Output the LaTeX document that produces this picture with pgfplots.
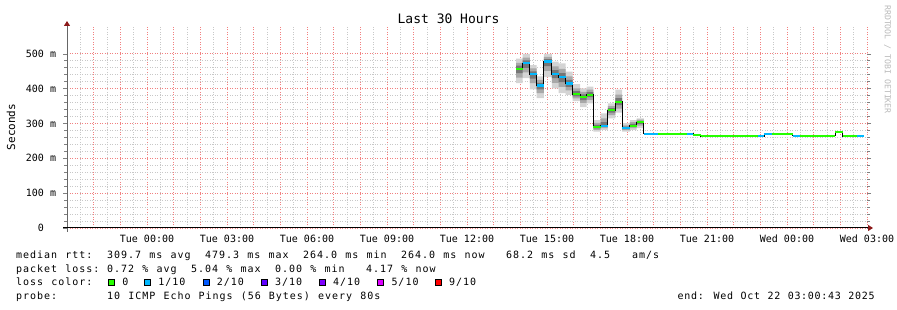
\documentclass[border=0pt]{standalone}
\usepackage{fontspec}
\setmainfont{DejaVu Sans Mono}
\newfontfamily\lgfont[LetterSpace=9.8,WordSpace=1.163]{DejaVu Sans Mono}
\newfontfamily\endfont[LetterSpace=7,WordSpace=1.116]{DejaVu Sans Mono}
\usepackage{pgfplots}
\pgfplotsset{compat=1.18}
\usepackage{pgfplotstable}
\usepgfplotslibrary{fillbetween}
\usetikzlibrary{arrows.meta}

\definecolor{lgreen}{RGB}{38,255,0}
\definecolor{lcyan}{RGB}{0,184,255}
\definecolor{lblue}{RGB}{0,89,255}
\definecolor{lviolet}{RGB}{94,0,255}
\definecolor{lpurple}{RGB}{126,0,255}
\definecolor{lmagenta}{RGB}{221,0,255}
\definecolor{lred}{RGB}{255,0,0}
\definecolor{mgrid}{RGB}{242,128,128}
\definecolor{ngrid}{RGB}{200,200,200}
\definecolor{arrowc}{RGB}{140,25,25}
\definecolor{smoke1}{RGB}{212,212,212}
\definecolor{smoke2}{RGB}{168,168,168}
\definecolor{smoke3}{RGB}{118,118,118}

% smoke bands (ms), step start in hours after Tue 00:00
\pgfplotstableread{
x olo ohi mlo mhi ilo ihi
13.84 416 486 432 474 445 466
14.09 430 500 447 489 460 481
14.36 398 468 416 458 429 450
14.61 373 435 387 425 398 417
14.88 433 500 451 491 465 485
15.18 401 478 417 464 430 453
15.44 387 473 405 457 419 445
15.70 382 449 395 435 405 425
15.96 364 413 372 401 378 393
16.24 347 401 359 391 367 384
16.49 358 406 368 397 376 390
16.74 277 310 282 302 286 296
17.01 282 329 287 315 290 304
17.28 315 358 324 350 331 344
17.56 331 397 343 383 353 373
17.82 277 301 281 295 284 291
18.11 282 310 287 304 290 299
18.36 287 315 294 311 299 307
18.63 287 315 294 311 299 307
}\smoketab

% median rtt (ms)
\pgfplotstableread{
x y
13.84 457
14.09 473
14.36 442
14.61 409
14.88 478
15.18 442
15.44 433
15.70 415
15.96 384
16.24 376
16.49 383
16.74 290
17.01 294
17.28 338
17.56 362
17.82 287
18.11 294
18.36 304
18.63 271
20.49 268
20.76 264
23.15 271
24.21 265
25.81 275
26.09 264
26.89 264
}\medtab

\newcommand\lgt[3]{\node[anchor=base west,inner sep=0pt] at ({(16+#1*7)*1bp},#2bp) {\lgfont\fontsize{10bp}{12bp}\selectfont #3};}
\newcommand\lbox[3]{%
  \fill[#2] (#1bp,24.5bp) rectangle ({(#1+6.7)*1bp},31.2bp);
  \draw[black,line width=0.8bp] ({(#1+0.4)*1bp},24.9bp) rectangle ({(#1+6.3)*1bp},30.8bp);
  \node[anchor=base west,inner sep=0pt] at ({(#1+14)*1bp},24.5bp) {\lgfont\fontsize{10bp}{12bp}\selectfont #3};}

\begin{document}
\begin{tikzpicture}
\path (0,0) rectangle (897bp,310bp);
\begin{axis}[
  at={(67bp,82bp)}, anchor=south west,
  scale only axis, width=800bp, height=202bp,
  xmin=-3, xmax=27, ymin=0, ymax=580,
  axis line style={draw=none},
  xtick={-3,-2,...,27},
  xticklabels={,,,Tue 00:00,,,Tue 03:00,,,Tue 06:00,,,Tue 09:00,,,Tue 12:00,,,Tue 15:00,,,Tue 18:00,,,Tue 21:00,,,Wed 00:00,,,Wed 03:00},
  minor x tick num=1,
  ytick={0,100,...,500},
  yticklabels={0,100 m,200 m,300 m,400 m,500 m},
  minor y tick num=4,
  grid=both,
  major grid style={mgrid, line width=0.75bp, dash pattern=on 1bp off 1.5bp},
  minor grid style={ngrid, line width=0.7bp, dash pattern=on 1bp off 1.5bp},
  xtick style={draw=none},
  ytick style={black!50, line width=0.7bp},
  tick align=outside,
  major tick length=4bp, minor tick length=3bp,
  tick label style={font=\fontsize{10bp}{12bp}\selectfont},
  xticklabel style={anchor=base, yshift=-11bp, inner sep=0pt},
  yticklabel style={anchor=center, xshift=-22bp, inner sep=0pt},
]
\addplot[name path=olo, const plot, draw=none, forget plot] table[x=x,y=olo]{\smoketab};
\addplot[name path=ohi, const plot, draw=none, forget plot] table[x=x,y=ohi]{\smoketab};
\addplot[name path=mlo, const plot, draw=none, forget plot] table[x=x,y=mlo]{\smoketab};
\addplot[name path=mhi, const plot, draw=none, forget plot] table[x=x,y=mhi]{\smoketab};
\addplot[name path=ilo, const plot, draw=none, forget plot] table[x=x,y=ilo]{\smoketab};
\addplot[name path=ihi, const plot, draw=none, forget plot] table[x=x,y=ihi]{\smoketab};
\addplot[smoke1, draw=none] fill between[of=ohi and olo];
\addplot[smoke2, draw=none] fill between[of=mhi and mlo];
\addplot[smoke3, draw=none] fill between[of=ihi and ilo];
\addplot[black, line width=1bp, const plot] table[x=x,y=y]{\medtab};
\addplot[lgreen, line width=2.2bp, unbounded coords=jump] coordinates {
(13.84,457)(14.09,457)(14.09,nan)
(15.96,384)(16.24,384)(16.24,nan)
(16.24,376)(16.49,376)(16.49,nan)
(16.49,383)(16.74,383)(16.74,nan)
(16.74,290)(17.01,290)(17.01,nan)
(17.28,338)(17.56,338)(17.56,nan)
(17.56,362)(17.82,362)(17.82,nan)
(18.11,294)(18.36,294)(18.36,nan)
(18.36,304)(18.63,304)(18.63,nan)
(19.15,271)(20.24,271)(20.24,nan)
(20.49,268)(20.76,268)(20.76,nan)
(20.76,264)(22.91,264)(22.91,nan)
(23.43,271)(24.21,271)(24.21,nan)
(24.49,265)(25.81,265)(25.81,nan)
(25.81,275)(26.09,275)(26.09,nan)
(26.09,264)(26.61,264)
};
\addplot[lcyan, line width=2.2bp, unbounded coords=jump] coordinates {
(14.09,473)(14.36,473)(14.36,nan)
(14.36,442)(14.61,442)(14.61,nan)
(14.61,409)(14.88,409)(14.88,nan)
(14.88,478)(15.18,478)(15.18,nan)
(15.18,442)(15.44,442)(15.44,nan)
(15.44,433)(15.70,433)(15.70,nan)
(15.70,415)(15.96,415)(15.96,nan)
(17.01,294)(17.28,294)(17.28,nan)
(17.82,287)(18.11,287)(18.11,nan)
(18.63,271)(19.15,271)(19.15,nan)
(20.24,271)(20.49,271)(20.49,nan)
(22.91,264)(23.15,264)(23.15,nan)
(23.15,271)(23.43,271)(23.43,nan)
(24.21,265)(24.49,265)(24.49,nan)
(26.61,264)(26.89,264)
};
\end{axis}
% axes with arrows
\draw[black!60, line width=1bp, -{Triangle[length=5bp,width=6bp,color=arrowc]}] (67bp,78bp) -- (67bp,289bp);
\draw[black, line width=1bp, -{Triangle[length=5bp,width=6bp,color=arrowc]}] (63bp,82bp) -- (873bp,82bp);
% title and labels
\node[anchor=base,inner sep=0pt] at (448.5bp,286.7bp) {\fontsize{13bp}{15bp}\selectfont Last 30 Hours};
\node[rotate=90,inner sep=0pt] at (11bp,183bp) {\fontsize{11bp}{13bp}\selectfont Seconds};
\node[rotate=-90,inner sep=0pt,text={rgb,255:red,185;green,185;blue,185}] at (887.5bp,250.5bp) {\fontsize{8.2bp}{10bp}\selectfont RRDTOOL / TOBI OETIKER};
% legend
\lgt{0}{51.5}{median rtt:}
\lgt{13}{51.5}{309.7 ms avg}
\lgt{27}{51.5}{479.3 ms max}
\lgt{41}{51.5}{264.0 ms min}
\lgt{55}{51.5}{264.0 ms now}
\lgt{70}{51.5}{68.2 ms sd}
\lgt{82}{51.5}{4.5}
\lgt{88}{51.5}{am/s}
\lgt{0}{37.75}{packet loss:}
\lgt{13}{37.75}{0.72 \% avg}
\lgt{25}{37.75}{5.04 \% max}
\lgt{37}{37.75}{0.00 \% min}
\lgt{50}{37.75}{4.17 \% now}
\lgt{0}{24.5}{loss color:}
\lbox{108.3}{lgreen}{0}
\lbox{144.3}{lcyan}{1/10}
\lbox{202.7}{lblue}{2/10}
\lbox{261}{lviolet}{3/10}
\lbox{319}{lpurple}{4/10}
\lbox{377.3}{lmagenta}{5/10}
\lbox{435}{lred}{9/10}
\lgt{0}{11}{probe:}
\lgt{13}{11}{10 ICMP Echo Pings (56 Bytes) every 80s}
\node[anchor=base west,inner sep=0pt] at (677.5bp,11bp) {\endfont\fontsize{10bp}{12bp}\selectfont end: Wed Oct 22 03:00:43 2025};
\end{tikzpicture}
\end{document}
